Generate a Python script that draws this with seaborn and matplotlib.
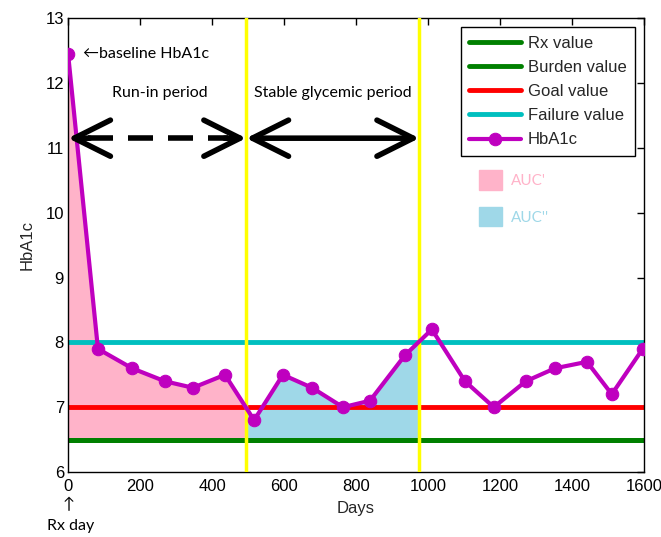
import numpy as np
import pandas as pd
import matplotlib
matplotlib.use('Agg')
import matplotlib.pyplot as plt
from matplotlib.patches import Patch
import seaborn as sns

sns.set_style('white')
plt.rcParams['font.family'] = ['Liberation Sans', 'DejaVu Sans']

days = [0, 83, 178, 269, 347, 436, 517, 597, 678, 764, 839, 936, 1011, 1103, 1183, 1272, 1353, 1442, 1511, 1597]
hba1c = [12.45, 7.9, 7.6, 7.4, 7.3, 7.5, 6.8, 7.5, 7.3, 7.0, 7.1, 7.8, 8.2, 7.4, 7.0, 7.4, 7.6, 7.7, 7.2, 7.9]

# reference levels
rx_value = 6.5
burden_value = 6.5
goal_value = 7.0
failure_value = 8.0

# period boundaries (days)
runin_end = 495
stable_end = 976
arrow_level = 11.15

df = pd.DataFrame({'Days': days, 'HbA1c': hba1c})


def segment(start, end):
    # curve between two day marks, with the ends put on the curve
    inside = df[(df.Days > start) & (df.Days < end)]
    xs = [start] + inside.Days.tolist() + [end]
    ys = [np.interp(start, days, hba1c)] + inside.HbA1c.tolist() + [np.interp(end, days, hba1c)]
    return xs, ys


fig, ax = plt.subplots(figsize=(6.61, 5.37), dpi=100)
fig.subplots_adjust(left=0.103, right=0.974, bottom=0.121, top=0.966)

pink_x, pink_y = segment(0, runin_end)
blue_x, blue_y = segment(runin_end, stable_end)
ax.fill_between(pink_x, pink_y, rx_value, color='#ffb3c9', lw=0, zorder=1)
ax.fill_between(blue_x, blue_y, rx_value, color='#9fd8e8', lw=0, zorder=1)

ax.axhline(rx_value, color='#008000', lw=3.5, label='Rx value', zorder=2)
ax.axhline(burden_value, color='#008000', lw=3.5, label='Burden value', zorder=2)
ax.axhline(goal_value, color='#ff0000', lw=3.5, label='Goal value', zorder=2)
ax.axhline(failure_value, color='#00bfbf', lw=3.5, label='Failure value', zorder=2)

ax.axvline(runin_end, color='#ffff00', lw=2.5, zorder=3)
ax.axvline(stable_end, color='#ffff00', lw=2.5, zorder=3)

sns.lineplot(data=df, x='Days', y='HbA1c', color='#bf00bf', lw=3, marker='o',
             markersize=9, markeredgecolor='#bf00bf', label='HbA1c', ax=ax, zorder=5)

# period arrows
ax.plot([55, runin_end - 50], [arrow_level, arrow_level], color='black', lw=4,
        dashes=(4.5, 2.7), zorder=6)
head = dict(arrowstyle='->,head_length=2.6,head_width=1.3', lw=4, color='black',
            mutation_scale=10, shrinkA=0, shrinkB=0)
ax.annotate('', xy=(0, arrow_level), xytext=(60, arrow_level), arrowprops=head, zorder=6)
ax.annotate('', xy=(runin_end, arrow_level), xytext=(runin_end - 60, arrow_level),
            arrowprops=head, zorder=6)
ax.annotate('', xy=(stable_end, arrow_level), xytext=(runin_end, arrow_level),
            arrowprops=dict(head, arrowstyle='<->,head_length=2.6,head_width=1.3'), zorder=6)

note_font = dict(family=['Lato', 'DejaVu Sans'], fontsize=11.5, color='black')
ax.annotate('←baseline HbA1c', xy=(days[0], hba1c[0]), xytext=(11, 0),
            textcoords='offset points', va='center', ha='left', **note_font)
ax.text((0 + runin_end) / 2 + 8, 11.84, 'Run-in period', ha='center', va='center', **note_font)
ax.text((runin_end + stable_end) / 2, 11.84, 'Stable glycemic period', ha='center',
        va='center', **note_font)
ax.annotate('↑', xy=(0, 0), xycoords=('data', 'axes fraction'), xytext=(0, -24),
            textcoords='offset points', ha='center', va='center', **note_font)
ax.annotate('Rx day', xy=(0, 0), xycoords=('data', 'axes fraction'), xytext=(2, -39),
            textcoords='offset points', ha='center', va='center', **note_font)

ax.set_xlim(0, 1600)
ax.set_ylim(6, 13)
ax.set_xticks(range(0, 1601, 200))
ax.set_yticks(range(6, 14))
ax.set_xlabel('Days', fontsize=12, labelpad=5)
ax.set_ylabel('HbA1c', fontsize=12, labelpad=8)
ax.tick_params(direction='in', top=True, right=True, length=5, width=1,
               labelsize=12, colors='black')
ax.tick_params(axis='x', pad=5)
ax.tick_params(axis='y', pad=3)
for s in ax.spines.values():
    s.set_color('black')
    s.set_linewidth(1)

leg = ax.legend(loc='upper right', fontsize=12, frameon=True, fancybox=False,
                edgecolor='black', framealpha=1, handlelength=3.1, labelspacing=0.55,
                borderaxespad=0.55, borderpad=0.5, handletextpad=0.4)
leg.get_frame().set_linewidth(1)
ax.add_artist(leg)

auc = ax.legend(handles=[Patch(color='#ffb3c9'), Patch(color='#9fd8e8')],
                labels=["AUC'", "AUC''"], labelcolor=['#ffb3c9', '#9fd8e8'],
                loc='upper left', bbox_to_anchor=(0.69, 0.695), frameon=False,
                handlelength=1.5, handleheight=1.6, labelspacing=1.1,
                handletextpad=0.6, prop=dict(family=['Lato', 'DejaVu Sans'], size=11))

fig.savefig('out.png', dpi=100)
